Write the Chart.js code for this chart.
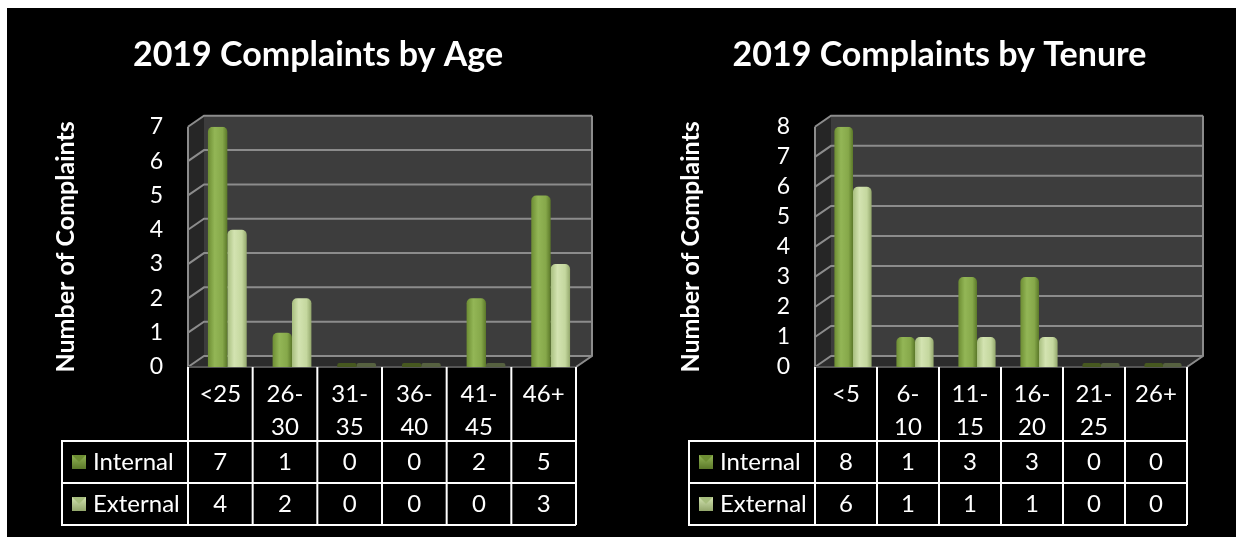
<!DOCTYPE html>
<html>
<head>
<meta charset="utf-8">
<script src="https://cdn.jsdelivr.net/npm/chart.js@4.4.1/dist/chart.umd.min.js"></script>
<style>
  html, body { margin: 0; padding: 0; background: #fff; overflow: hidden; }
  #wrap { position: absolute; left: 7px; top: 8px; width: 1229px; height: 529px; background: #000; }
  .box { position: absolute; top: 0; height: 529px; }
  #ageBox { left: 0; width: 622px; }
  #tenureBox { left: 636px; width: 593px; }
</style>
</head>
<body>
<div id="wrap">
  <div class="box" id="ageBox"><canvas id="ageChart"></canvas></div>
  <div class="box" id="tenureBox"><canvas id="tenureChart"></canvas></div>
</div>
<script>
// data
const ageLabels = [['<25'], ['26-', '30'], ['31-', '35'], ['36-', '40'], ['41-', '45'], ['46+']];
const ageInternal = [7, 1, 0, 0, 2, 5];
const ageExternal = [4, 2, 0, 0, 0, 3];
const ageMax = 7;

const tenureLabels = [['<5'], ['6-', '10'], ['11-', '15'], ['16-', '20'], ['21-', '25'], ['26+']];
const tenureInternal = [8, 1, 3, 3, 0, 0];
const tenureExternal = [6, 1, 1, 1, 0, 0];
const tenureMax = 8;

const seriesNames = ['Internal', 'External'];

const FRONT = -7, BACK = 9, DEPTH_Y = -11;
const FONT = 'Lato';

const shades = [
    { stops: ['#6d8d33', '#93b656', '#86a84a', '#5b7829'], flat: '#46581f' },
    { stops: ['#a7be7e', '#d3e3b1', '#c4d79e', '#93a76c'], flat: '#566140' }
];

function barFill(d) {
    return (c) => {
        const chart = c.chart, x = chart.scales.x;
        if (c.raw === 0) return shades[d].flat;
        if (!x || c.dataIndex === undefined) return shades[d].stops[1];
        const catW = (x.right - x.left) / chart.data.labels.length;
        const bw = catW * 0.6 / 2;
        const x0 = x.getPixelForValue(c.dataIndex) - catW * 0.3 + d * bw;
        if (!Number.isFinite(x0) || !Number.isFinite(bw) || bw <= 0) return shades[d].stops[1];
        const g = chart.ctx.createLinearGradient(x0, 0, x0 + bw, 0);
        const s = shades[d].stops;
        g.addColorStop(0, s[0]);
        g.addColorStop(0.35, s[1]);
        g.addColorStop(0.75, s[2]);
        g.addColorStop(1, s[3]);
        return g;
    };
}

// back wall, side wall, floor and gridlines
const wallPlugin = {
    id: 'wall3d',
    beforeDatasetsDraw(chart) {
        const { ctx, chartArea: a, scales: { y } } = chart;
        const fl = a.left + FRONT, fr = a.right + FRONT;
        const bl = a.left + BACK, br = a.right + BACK;
        const y0 = y.getPixelForValue(0), yt = y.getPixelForValue(y.max);
        ctx.save();
        ctx.fillStyle = '#3d3d3d';
        ctx.fillRect(bl, yt + DEPTH_Y, br - bl, y0 - yt);
        ctx.fillStyle = '#262626';
        ctx.beginPath();
        ctx.moveTo(fl, yt); ctx.lineTo(bl, yt + DEPTH_Y); ctx.lineTo(bl, y0 + DEPTH_Y); ctx.lineTo(fl, y0);
        ctx.closePath(); ctx.fill();
        ctx.fillStyle = '#2c2c2c';
        ctx.beginPath();
        ctx.moveTo(fl, y0); ctx.lineTo(bl, y0 + DEPTH_Y); ctx.lineTo(br, y0 + DEPTH_Y); ctx.lineTo(fr, y0);
        ctx.closePath(); ctx.fill();

        ctx.strokeStyle = '#8c8c8c';
        ctx.lineWidth = 2;
        y.ticks.forEach(t => {
            const py = y.getPixelForValue(t.value);
            ctx.beginPath();
            ctx.moveTo(fl, py); ctx.lineTo(bl, py + DEPTH_Y); ctx.lineTo(br, py + DEPTH_Y);
            ctx.stroke();
        });
        ctx.beginPath();
        ctx.moveTo(br, yt + DEPTH_Y); ctx.lineTo(br, y0 + DEPTH_Y); ctx.lineTo(fr, y0);
        ctx.moveTo(fl, yt); ctx.lineTo(fl, y0);
        ctx.stroke();
        ctx.strokeStyle = '#555';
        ctx.beginPath();
        ctx.moveTo(fl, y0); ctx.lineTo(fr, y0);
        ctx.stroke();
        ctx.restore();
    }
};

// data table under the plot
const tablePlugin = {
    id: 'dataTable',
    afterDraw(chart) {
        const { ctx, chartArea: a, scales: { x, y } } = chart;
        const labels = chart.data.labels;
        const n = labels.length;
        const colW = (x.right - x.left) / n;
        const top = y.getPixelForValue(0);
        const r1 = top + 74, r2 = r1 + 42, r3 = r2 + 42;
        const fl = a.left + FRONT;
        const tl = fl - 126;
        const fr = fl + colW * n;

        ctx.save();
        ctx.strokeStyle = '#fff';
        ctx.lineWidth = 2;
        ctx.beginPath();
        for (let i = 0; i <= n; i++) {
            const cx = x.getPixelForValue(i) - colW / 2 + FRONT;
            ctx.moveTo(cx, top); ctx.lineTo(cx, r3);
        }
        ctx.moveTo(tl, r1 - 1); ctx.lineTo(tl, r3 + 1);
        [r1, r2, r3].forEach(ry => { ctx.moveTo(tl, ry); ctx.lineTo(fr, ry); });
        ctx.stroke();

        ctx.fillStyle = '#fff';
        ctx.font = '24px ' + FONT;
        ctx.textAlign = 'center';
        ctx.textBaseline = 'middle';
        labels.forEach((lines, i) => {
            const cx = x.getPixelForValue(i) + FRONT;
            lines.forEach((ln, k) => ctx.fillText(ln, cx, top + 27 + k * 33));
            chart.data.datasets.forEach((ds, d) => {
                ctx.fillText(String(ds.data[i]), cx, (d ? r2 : r1) + 21);
            });
        });

        chart.data.datasets.forEach((ds, d) => {
            const cy = (d ? r2 : r1) + 21;
            const ix = tl + 10, iy = cy - 7, s = 14;
            const g = ctx.createLinearGradient(ix, iy, ix, iy + s);
            g.addColorStop(0, shades[d].stops[1]);
            g.addColorStop(1, shades[d].stops[3]);
            ctx.fillStyle = g;
            ctx.fillRect(ix, iy, s, s);
            ctx.fillStyle = shades[d].stops[0];
            ctx.beginPath();
            ctx.moveTo(ix, iy); ctx.lineTo(ix + s, iy); ctx.lineTo(ix + s / 2, iy + s / 2);
            ctx.closePath(); ctx.fill();
            ctx.fillStyle = '#fff';
            ctx.textAlign = 'left';
            ctx.fillText(ds.label, ix + s + 7, cy);
        });
        ctx.restore();
    }
};

function makeChart(id, title, labels, internal, external, max, pad, axisW, axisTitlePad) {
    return new Chart(document.getElementById(id), {
        type: 'bar',
        data: {
            labels: labels,
            datasets: [internal, external].map((vals, d) => ({
                label: seriesNames[d],
                data: vals,
                backgroundColor: barFill(d),
                borderWidth: 0,
                borderRadius: { topLeft: 5, topRight: 5, bottomLeft: 0, bottomRight: 0 },
                borderSkipped: 'bottom',
                minBarLength: 4,
                categoryPercentage: 0.6,
                barPercentage: 1
            }))
        },
        options: {
            responsive: true,
            maintainAspectRatio: false,
            animation: false,
            layout: { padding: { left: pad, right: pad, top: 0, bottom: 170 } },
            plugins: {
                legend: { display: false },
                tooltip: { enabled: false },
                title: {
                    display: true,
                    text: title,
                    color: '#fff',
                    font: { family: FONT, size: 34, weight: 'bold' },
                    padding: { top: 27, bottom: 51 }
                }
            },
            scales: {
                x: { display: false },
                y: {
                    min: 0,
                    max: max,
                    ticks: { stepSize: 1, autoSkip: false, color: '#fff', font: { family: FONT, size: 23 }, padding: 32 },
                    grid: { display: false, drawTicks: false },
                    border: { display: false },
                    title: {
                        display: true,
                        text: 'Number of Complaints',
                        color: '#fff',
                        font: { family: FONT, size: 25, weight: 'bold' },
                        padding: { top: axisTitlePad, bottom: 0 }
                    },
                    afterFit(scale) { scale.width = axisW; }
                }
            }
        },
        plugins: [wallPlugin, tablePlugin]
    });
}

document.addEventListener('DOMContentLoaded', () => {
    makeChart('ageChart', '2019 Complaints by Age', ageLabels, ageInternal, ageExternal, ageMax, 46, 142, -2);
    makeChart('tenureChart', '2019 Complaints by Tenure', tenureLabels, tenureInternal, tenureExternal, tenureMax, 42, 137, -9);
});
</script>
</body>
</html>
